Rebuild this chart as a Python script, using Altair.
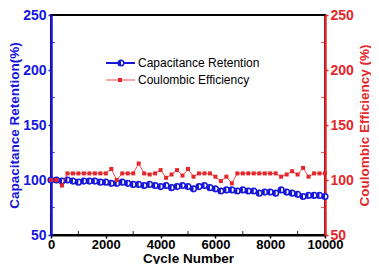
import altair as alt
import pandas as pd

BLUE = "#1616dc"
RED = "#e5262b"
FONT = "Liberation Sans"

cycles = list(range(0, 10001, 200))
capacitance = [100, 100, 99, 100, 99, 98, 99, 99, 99, 98,
               98, 97, 97, 98, 97, 96, 96, 95, 96, 95,
               94, 95, 93, 94, 95, 94, 92, 94, 95, 93,
               92, 90, 91, 91, 90, 91, 90, 90, 88, 89,
               89, 88, 91, 89, 88, 87, 85, 86, 86, 86, 85]
coulombic = [100, 100, 95, 106, 106, 106, 106, 106, 106, 106,
             106, 110, 100, 106, 106, 106, 115, 106, 105, 106,
             109, 102, 105, 109, 104, 110, 103, 106, 106, 106,
             103, 99, 103, 97, 106, 106, 106, 106, 106, 106,
             106, 106, 103, 105, 108, 105, 111, 103, 106, 106, 106]

legend_labels = ["Capacitance Retention", "Coulombic Efficiency"]
x_major = [0, 2000, 4000, 6000, 8000, 10000]
x_minor = [1000, 3000, 5000, 7000, 9000]
y_major = [50, 100, 150, 200, 250]
y_minor = [75, 125, 175, 225]

df = pd.DataFrame({"cycle": cycles, "cap": capacitance, "ce": coulombic})

xscale = alt.Scale(domain=[0, 10000], nice=False)
yscale = alt.Scale(domain=[50, 250], nice=False)

H = 220

x_axis = alt.Axis(title="Cycle Number", values=x_major, format="d",
                  grid=False, domainColor="black", domainWidth=2, tickColor="black",
                  tickWidth=1.5, tickSize=3, labelColor="black", labelFont=FONT,
                  labelFontSize=13, labelFontWeight="bold", labelPadding=0,
                  titleFont=FONT, titleFontSize=13.5, titleFontWeight="bold",
                  titleColor="black", titlePadding=0, labelFlush=False)

left_axis = alt.Axis(title="Capacitance Retention(%)", values=y_major,
                     grid=False, domainColor=BLUE, domainWidth=2.5, tickColor=BLUE,
                     tickWidth=1.5, tickSize=3, labelColor=BLUE, labelFont=FONT,
                     labelFontSize=14, labelFontWeight="bold", labelPadding=2,
                     titleFont=FONT, titleFontSize=13.5, titleFontWeight="bold",
                     titleColor=BLUE, titlePadding=1, orient="left")

right_axis = alt.Axis(title="Coulombic Efficiency (%)", values=y_major,
                      grid=False, domainColor=RED, domainWidth=2.5, tickColor=RED,
                      tickWidth=1.5, tickSize=3, labelColor=RED, labelFont=FONT,
                      labelFontSize=14, labelFontWeight="bold", labelPadding=2,
                      titleFont=FONT, titleFontSize=13.5, titleFontWeight="bold",
                      titleColor=RED, titlePadding=4, orient="right",
                      titleAngle=270, titleBaseline="top")

base = alt.Chart(df)
X = alt.X("cycle:Q", scale=xscale, axis=x_axis)
YB = alt.Y("cap:Q", scale=yscale, axis=left_axis)
YR = alt.Y("ce:Q", scale=yscale, axis=right_axis)

half_left = "M0,-1A1,1 0 0,0 0,1Z"

blue_line = base.mark_line(color=BLUE, strokeWidth=1.5).encode(x=X, y=YB)
blue_pts = base.mark_point(shape="circle", filled=True, fill="white", stroke=BLUE,
                           strokeWidth=1.5, size=32, opacity=1).encode(x=X, y=YB)
blue_half = base.mark_point(shape=half_left, filled=True, color=BLUE, size=32,
                            opacity=1).encode(x=X, y=YB)

# minor ticks (inside)
yminor_df = pd.DataFrame({"cap": y_minor})
left_minor = alt.Chart(yminor_df).mark_tick(color=BLUE, orient="horizontal",
                                            size=3, thickness=1.2).encode(
    x=alt.value(2.5), y=YB)
blue_layer = alt.layer(blue_line, blue_pts, blue_half, left_minor)

red_line = base.mark_line(color=RED, strokeWidth=0.8).encode(x=X, y=YR)
red_pts = base.mark_point(shape="square", filled=True, color=RED, size=16,
                          opacity=1).encode(x=X, y=YR)
rminor_df = pd.DataFrame({"ce": y_minor})
right_minor = alt.Chart(rminor_df).mark_tick(color=RED, orient="horizontal",
                                             size=3, thickness=1.2).encode(
    x=alt.value(274 - 2.5), y=YR)
red_layer = alt.layer(red_line, red_pts, right_minor)

xminor_df = pd.DataFrame({"cycle": x_minor})
bottom_minor = alt.Chart(xminor_df).mark_tick(color="black", orient="vertical",
                                              size=3, thickness=1.2).encode(
    x=X, y=alt.value(H - 2.5))

# manual legend
one = df.head(1)
leg1_line = alt.Chart(one).mark_rule(color=BLUE, strokeWidth=2).encode(
    x=alt.value(55), x2=alt.value(84), y=alt.value(48))
leg1_c = alt.Chart(one).mark_point(shape="circle", filled=True, fill="white",
                                   stroke=BLUE, strokeWidth=1.5, size=32,
                                   opacity=1).encode(x=alt.value(70), y=alt.value(48))
leg1_h = alt.Chart(one).mark_point(shape=half_left, filled=True, color=BLUE,
                                   size=32, opacity=1).encode(x=alt.value(70), y=alt.value(48))
leg2_line = alt.Chart(one).mark_rule(color=RED, strokeWidth=0.8).encode(
    x=alt.value(55), x2=alt.value(84), y=alt.value(65))
leg2_s = alt.Chart(one).mark_point(shape="square", filled=True, color=RED,
                                   size=16, opacity=1).encode(x=alt.value(69), y=alt.value(65))
leg_df = pd.DataFrame({"label": legend_labels, "yy": [48, 65]})
leg_text = alt.Chart(leg_df).mark_text(align="left", baseline="middle", font=FONT,
                                       fontSize=12, color="black").encode(
    x=alt.value(87), y=alt.Y("yy:Q", scale=None), text="label:N")

legend = alt.layer(leg1_line, leg1_c, leg1_h, leg2_line, leg2_s, leg_text)

chart = alt.layer(blue_layer, red_layer, bottom_minor, legend).resolve_scale(
    y="independent"
).properties(
    width=274, height=H,
    autosize=alt.AutoSizeParams(type="none"),
    padding={"left": 43, "top": 7, "right": 46, "bottom": 29},
).configure_view(stroke="black", strokeWidth=2)

chart.save("out.html", embed_options={"renderer": "svg", "actions": False})
